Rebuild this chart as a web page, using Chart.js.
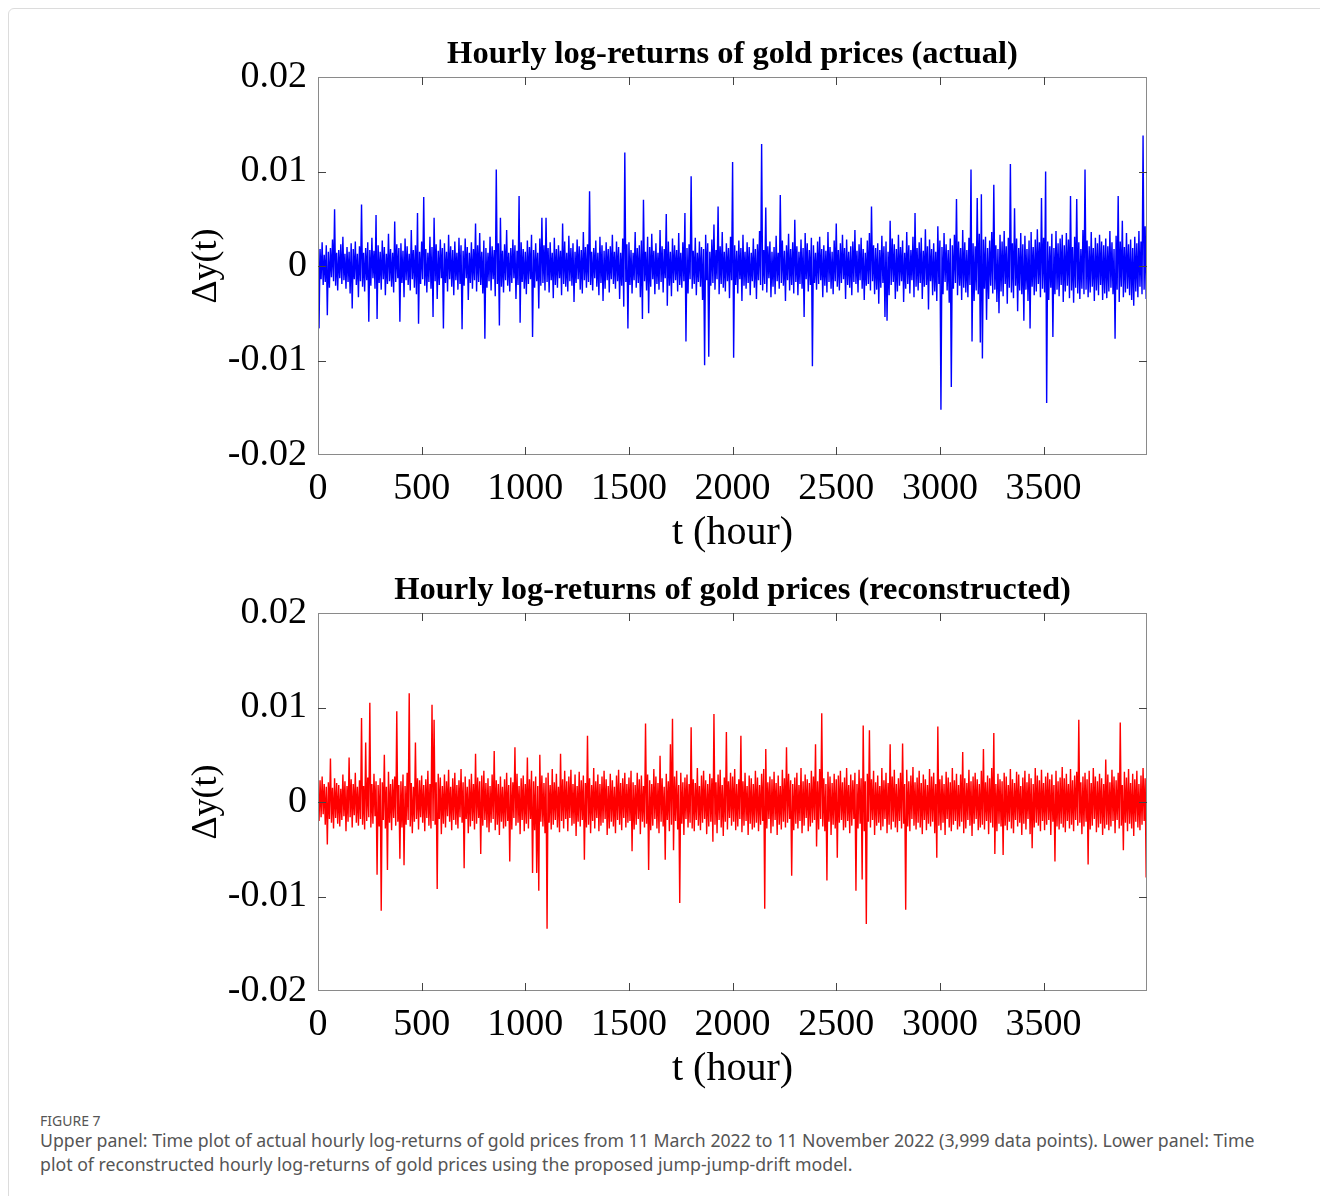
<!DOCTYPE html>
<html>
<head>
<meta charset="utf-8">
<script src="https://cdn.jsdelivr.net/npm/chart.js@4.4.1/dist/chart.umd.min.js"></script>
<style>
  html,body{margin:0;padding:0;background:#fff;width:1320px;height:1196px;overflow:hidden;}
  #frame{position:absolute;left:8px;top:8px;width:1340px;height:1260px;border:1px solid #dcdcdc;border-radius:6px;}
  canvas{position:absolute;}
  #c1{left:180px;top:20px;}
  #c2{left:180px;top:556px;}
  #figno{position:absolute;left:40px;top:1111px;font-family:"Noto Sans",sans-serif;font-size:14px;color:#555;}
  #cap{position:absolute;left:40px;top:1128px;font-family:"Noto Sans",sans-serif;font-size:17.7px;line-height:24px;color:#555;white-space:nowrap;}
</style>
</head>
<body>
<div id="frame"></div>
<canvas id="c1" width="1000" height="545"></canvas>
<canvas id="c2" width="1000" height="545"></canvas>
<div id="figno">FIGURE 7</div>
<div id="cap">Upper panel: Time plot of actual hourly log-returns of gold prices from 11 March 2022 to 11 November 2022 (3,999 data points). Lower panel: Time<br>plot of reconstructed hourly log-returns of gold prices using the proposed jump-jump-drift model.</div>
<script>
// Hours between plotted values (the 3,999-hour record shown at 5-hour resolution)
const STEP_HOURS = 5;
// Log-returns in units of 1e-4 (spikes read; the dense band estimated)
const actual_e4 = [
66,-66,18,-14,25,-20,12,-17,22,-52,15,-23,19,-12,28,-16,60,-21,14,-26,
17,-13,23,-19,31,-15,13,-24,20,-17,15,-29,24,-45,18,-14,26,-20,13,-33,
21,-16,65,-22,14,-27,19,-15,25,-59,17,-21,30,-13,16,-24,54,-56,22,-18,
15,-25,27,-14,20,-31,13,-19,34,-16,18,-22,14,-28,47,-17,23,-13,19,-59,
24,-18,16,-33,29,-15,21,-20,13,-26,38,-14,17,-23,22,-30,56,-61,15,-19,
26,-14,73,-21,18,-28,14,-17,31,-24,20,-54,51,-16,23,-35,16,-20,28,-13,
19,-66,24,-18,15,-27,33,-14,21,-22,17,-31,26,-15,14,-25,30,-19,22,-67,
16,-21,29,-13,20,-36,14,-18,25,-24,18,-15,45,-27,22,-17,35,-20,15,-29,
27,-77,19,-23,14,-16,31,-26,21,-14,17,-32,102,-19,24,-63,51,-22,16,-28,
23,-15,38,-21,14,-27,19,-18,28,-13,22,-35,16,-20,74,-60,25,-17,18,-24,
15,-30,27,-19,20,-14,33,-75,17,-23,24,-16,14,-45,29,-21,51,-18,22,-26,
51,-17,19,-28,25,-15,14,-34,30,-20,18,-23,22,-13,16,-31,45,-19,26,-22,
14,-27,32,-16,19,-21,24,-38,15,-18,28,-14,21,-25,17,-29,36,-15,20,-23,
23,-17,79,-20,15,-26,19,-13,27,-22,14,-31,31,-18,22,-37,16,-24,25,-15,
18,-28,21,-14,33,-19,15,-24,26,-16,20,-35,14,-21,29,-43,120,-17,23,-66,
25,-20,17,-29,14,-15,36,-23,19,-18,22,-33,27,-56,70,-16,15,-26,31,-50,
20,-22,34,-14,16,-30,24,-19,14,-25,38,-17,21,-28,18,-13,55,-42,26,-21,
15,-32,29,-18,22,-15,17,-27,35,-20,14,-23,25,-16,56,-80,19,-29,23,-14,
95,-24,16,-19,30,-31,14,-17,26,-22,20,-36,18,-105,33,-15,24,-96,15,-21,
28,-18,44,-25,17,-14,63,-30,21,-19,36,-23,15,-27,24,-16,19,-34,31,-15,
110,-97,22,-20,16,-29,27,-14,19,-37,33,-21,15,-24,25,-18,20,-31,14,-16,
29,-23,18,-35,23,-15,37,-20,129,-26,17,-19,62,-28,21,-13,26,-33,15,-22,
20,-30,32,-16,14,-24,75,-18,27,-21,16,-37,22,-15,34,-26,18,-20,25,-29,
49,-17,21,-31,15,-19,28,-24,19,-54,35,-14,24,-27,17,-20,30,-106,22,-18,
14,-25,26,-19,31,-15,18,-33,22,-21,16,-28,36,-17,20,-24,15,-30,27,-16,
45,-22,17,-26,24,-18,33,-14,19,-35,28,-20,15,-23,21,-31,26,-17,38,-19,
16,-28,23,-15,30,-24,18,-36,14,-21,27,-19,35,-26,63,-16,22,-30,19,-25,
24,-40,17,-23,32,-18,21,-54,26,-58,15,-31,48,-20,29,-17,23,-35,18,-27,
33,-21,20,-16,27,-38,14,-24,36,-19,22,-29,17,-15,31,-33,56,-22,19,-26,
25,-18,30,-35,16,-22,39,-20,21,-46,28,-16,18,-31,24,-27,15,-37,42,-19,
27,-152,20,-30,35,-17,23,-26,17,-39,29,-128,22,-24,33,-18,71,-31,26,-21,
19,-36,38,-23,25,-28,17,-33,30,-20,102,-80,24,-37,21,-26,72,-30,34,-81,
76,-98,28,-24,31,-57,19,-35,27,-21,36,-29,86,-25,22,-38,18,-50,33,-27,
26,-32,37,-19,21,-40,30,-23,108,-28,24,-34,61,-21,29,-48,19,-26,35,-30,
23,-58,32,-25,18,-37,27,-66,36,-22,20,-31,28,-27,39,-19,25,-33,72,-24,
30,-28,100,-145,26,-36,21,-23,34,-75,19,-30,37,-25,24,-32,29,-20,33,-38,
22,-27,35,-21,28,-34,74,-26,20,-39,31,-23,71,-29,25,-35,18,-24,38,-30,
102,-25,27,-33,21,-28,36,-22,19,-37,30,-26,24,-31,33,-20,26,-36,22,-29,
29,-34,21,-27,37,-23,25,-30,18,-77,32,-25,74,-38,26,-22,48,-33,20,-28,
35,-24,23,-31,28,-36,19,-42,31,-27,24,-33,37,-22,26,-30,138,-25,42,-35
];
const reconstructed_e4 = [
14,-20,23,-16,27,-13,19,-24,16,-45,21,-18,46,-22,15,-28,25,-17,20,-23,
18,-26,14,-19,29,-15,22,-31,17,-21,47,-16,24,-27,19,-14,31,-22,16,-25,
23,-18,89,-24,17,-29,63,-20,26,-16,105,-27,19,-23,30,-15,22,-77,18,-26,
25,-115,21,-19,50,-28,16,-72,32,-22,19,-30,24,-17,27,-25,96,-21,18,-60,
22,-27,29,-67,17,-24,31,-19,115,-26,20,-33,16,-21,63,-18,25,-29,23,-16,
28,-22,18,-31,24,-17,33,-25,19,-28,103,-20,87,-24,21,-92,30,-18,26,-34,
17,-23,29,-27,22,-15,34,-21,16,-30,25,-19,31,-24,18,-28,23,-16,35,-22,
21,-70,27,-18,16,-33,24,-26,30,-20,19,-29,51,-23,26,-17,22,-55,28,-25,
33,-19,20,-27,25,-32,17,-22,29,-18,54,-30,23,-24,19,-35,27,-21,16,-28,
24,-26,31,-20,18,-63,26,-29,21,-17,58,-25,30,-22,17,-34,25,-19,28,-31,
19,-23,47,-28,24,-18,33,-75,22,-30,27,-75,17,-94,50,-21,28,-26,20,-33,
26,-134,31,-22,18,-29,35,-24,21,-19,30,-27,16,-32,51,-20,24,-28,33,-18,
22,-31,27,-17,34,-25,19,-23,29,-36,17,-21,32,-26,23,-19,28,-61,20,-27,
70,-24,25,-33,18,-20,36,-28,22,-17,29,-31,19,-25,27,-22,33,-18,24,-35,
17,-28,30,-21,23,-26,16,-33,28,-19,34,-24,20,-30,25,-17,31,-27,19,-22,
26,-20,33,-52,21,-29,18,-24,31,-18,24,-34,28,-21,17,-27,83,-23,29,-72,
23,-30,19,-25,35,-18,27,-28,20,-33,49,-21,25,-26,16,-61,30,-19,22,-31,
61,-24,88,-51,27,-20,33,-29,18,-107,31,-23,21,-35,26,-18,29,-27,19,-22,
79,-28,24,-31,20,-19,36,-25,17,-30,28,-22,33,-18,23,-34,19,-26,30,-21,
25,-42,93,-24,21,-33,29,-19,34,-27,18,-36,26,-21,74,-29,22,-17,31,-25,
27,-21,35,-30,19,-26,24,-18,70,-32,22,-25,31,-20,17,-35,28,-23,25,-29,
19,-27,33,-22,26,-31,18,-24,30,-20,35,-113,56,-28,21,-18,27,-33,24,-26,
32,-19,20,-35,28,-24,17,-29,34,-21,25,-27,58,-22,30,-18,23,-78,19,-30,
26,-23,31,-28,18,-20,36,-33,22,-25,29,-17,24,-31,20,-26,33,-22,27,-19,
61,-47,22,-29,35,-18,94,-26,25,-31,19,-83,32,-21,27,-35,20,-24,30,-28,
24,-59,28,-22,33,-19,21,-30,26,-27,36,-20,18,-33,29,-25,23,-18,31,-94,
19,-28,34,-23,25,-82,81,-31,22,-129,30,-21,76,-27,24,-19,33,-35,21,-25,
28,-22,17,-30,36,-26,23,-18,31,-33,20,-24,61,-29,27,-21,34,-27,19,-32,
25,-20,31,-28,62,-23,19,-114,34,-26,22,-31,28,-18,37,-25,21,-29,26,-22,
33,-27,20,-34,29,-19,24,-30,18,-23,35,-26,27,-21,31,-33,19,-59,80,-25,
24,-30,28,-22,19,-35,32,-18,26,-27,21,-31,36,-24,23,-20,30,-29,18,-26,
29,-21,53,-33,25,-28,20,-19,34,-25,22,-36,27,-23,31,-18,24,-30,19,-27,
33,-24,56,-29,21,-20,28,-34,25,-22,36,-27,73,-55,19,-31,30,-23,24,-26,
22,-56,31,-25,27,-30,18,-21,35,-28,24,-33,20,-19,32,-26,29,-22,17,-35,
26,-23,33,-29,21,-18,30,-34,25,-49,19,-27,36,-22,28,-25,23,-31,34,-20,
20,-30,27,-24,31,-19,24,-35,29,-21,18,-63,33,-26,22,-29,26,-23,37,-27,
25,-32,30,-20,19,-28,35,-24,23,-31,28,-19,32,-25,87,-22,21,-34,27,-26,
31,-21,24,-66,33,-29,20,-25,36,-18,27,-32,22,-27,30,-23,25,-35,19,-28,
45,-24,29,-30,21,-26,34,-20,27,-33,23,-19,31,-28,84,-25,18,-51,32,-22,
26,-31,35,-23,20,-28,30,-36,24,-21,33,-27,19,-30,28,-24,36,-20,25,-80
];
const xTicks = [0, 500, 1000, 1500, 2000, 2500, 3000, 3500];
const yTicks = [-0.02, -0.01, 0, 0.01, 0.02];
const yTickLabels = ['-0.02', '-0.01', '0', '0.01', '0.02'];
const titles = ['Hourly log-returns of gold prices (actual)', 'Hourly log-returns of gold prices (reconstructed)'];
const xLabel = 't (hour)';
const yLabel = '\u0394y(t)';

const SERIF = '"Liberation Serif", "Times New Roman", serif';

const boxPlugin = {
  id: 'matlabBox',
  afterDraw(chart) {
    const {ctx, chartArea: a, scales: {x, y}} = chart;
    ctx.save();
    ctx.strokeStyle = '#8a8a8a';
    ctx.lineWidth = 1;
    ctx.strokeRect(a.left + 0.5, a.top + 0.5, a.right - a.left - 1, a.bottom - a.top - 1);
    ctx.strokeStyle = '#444';
    ctx.beginPath();
    const L = 8;
    xTicks.forEach(v => {
      if (v === 0) return;
      const px = Math.round(x.getPixelForValue(v)) + 0.5;
      ctx.moveTo(px, a.bottom); ctx.lineTo(px, a.bottom - L);
      ctx.moveTo(px, a.top); ctx.lineTo(px, a.top + L);
    });
    yTicks.forEach(v => {
      if (v === -0.02 || v === 0.02) return;
      const py = Math.round(y.getPixelForValue(v)) + 0.5;
      ctx.moveTo(a.left, py); ctx.lineTo(a.left + L, py);
      ctx.moveTo(a.right, py); ctx.lineTo(a.right - L, py);
    });
    ctx.stroke();
    ctx.restore();
  }
};

function makeChart(id, values, color, title) {
  const pts = values.map((v, i) => ({x: i * STEP_HOURS, y: v / 10000}));
  return new Chart(document.getElementById(id), {
    type: 'line',
    data: {datasets: [{data: pts, borderColor: color, borderWidth: 1.4, pointRadius: 0, tension: 0, fill: false}]},
    options: {
      responsive: false, animation: false, devicePixelRatio: 1,
      layout: {padding: {left: 0, right: 33, top: 0, bottom: 0}},
      plugins: {
        legend: {display: false}, tooltip: {enabled: false},
        title: {display: true, text: title, fullSize: false, color: '#000',
          font: {family: SERIF, size: 32.5, weight: 'bold', lineHeight: 1.2},
          padding: {top: 15, bottom: 3}}
      },
      scales: {
        x: {
          type: 'linear', min: 0, max: 3999,
          afterBuildTicks(s) { s.ticks = xTicks.map(v => ({value: v})); },
          afterFit(s) { s.height = 110; },
          grid: {display: false, drawTicks: false}, border: {display: false},
          ticks: {color: '#000', font: {family: SERIF, size: 38}, padding: 11, autoSkip: false, maxRotation: 0,
            callback: (v) => String(v)},
          title: {display: true, text: xLabel, color: '#000', font: {family: SERIF, size: 40, lineHeight: 1.2}, padding: {top: 0, bottom: 8}}
        },
        y: {
          type: 'linear', min: -0.02, max: 0.02,
          afterBuildTicks(s) { s.ticks = yTicks.map(v => ({value: v})); },
          afterFit(s) { s.width = 138; },
          grid: {display: false, drawTicks: false}, border: {display: false},
          ticks: {color: '#000', font: {family: SERIF, size: 38}, padding: 11,
            callback: (v) => { const k = yTicks.findIndex(t => Math.abs(t - v) < 1e-9); return k >= 0 ? yTickLabels[k] : ''; }},
          title: {display: true, text: yLabel, color: '#000', font: {family: SERIF, size: 36, lineHeight: 1.2}, padding: {top: 5, bottom: 0}}
        }
      }
    },
    plugins: [boxPlugin]
  });
}

makeChart('c1', actual_e4, '#0000ff', titles[0]);
makeChart('c2', reconstructed_e4, '#ff0000', titles[1]);
</script>
</body>
</html>
